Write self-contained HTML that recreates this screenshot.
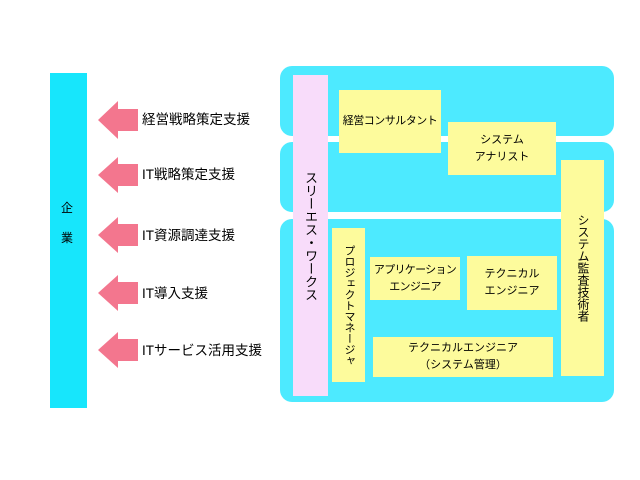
<!DOCTYPE html>
<html><head><meta charset="utf-8"><style>
body{margin:0;width:640px;height:480px;background:#fff;position:relative;overflow:hidden;font-family:"Liberation Sans","Noto Sans CJK JP",sans-serif;font-size:12px;color:#000}
div{position:absolute;box-sizing:border-box}
.p{background:#4deaff;border-radius:12px;left:280px;width:334px}
.y{background:#fdfb9c;display:flex;align-items:center;justify-content:center;text-align:center;line-height:17px;font-size:11px;white-space:nowrap}
.v{writing-mode:vertical-rl;}
.t{left:142px;font-size:13.5px;line-height:16px;white-space:nowrap}
</style></head><body>
<div style="left:50px;top:73px;width:37px;height:335px;background:#17e6fc"></div>
<div style="left:61px;top:200px;font-size:12px;line-height:16px">企</div>
<div style="left:61px;top:230px;font-size:12px;line-height:16px">業</div>
<svg style="position:absolute;left:0;top:0" width="640" height="480">
<g fill="#f3768e">
<polygon points="98,120 118,101 118,109 138,109 138,131 118,131 118,139"/>
<polygon points="98,175 118,157 118,164 138,164 138,186 118,186 118,193"/>
<polygon points="98,235 118,217 118,224 138,224 138,246 118,246 118,253"/>
<polygon points="98,293 118,275 118,282 138,282 138,304 118,304 118,311"/>
<polygon points="98,350 118,332 118,339 138,339 138,361 118,361 118,368"/>
</g></svg>
<div class="t" style="top:112px">経営戦略策定支援</div>
<div class="t" style="top:167px">IT戦略策定支援</div>
<div class="t" style="top:228px">IT資源調達支援</div>
<div class="t" style="top:286px">IT導入支援</div>
<div class="t" style="top:343px">ITサービス活用支援</div>

<div class="p" style="top:66px;height:70px"></div>
<div class="p" style="top:142px;height:70px"></div>
<div class="p" style="top:219px;height:183px"></div>
<div class="v" style="left:293px;top:75px;width:35px;height:321px;background:#f8dcfa;display:flex;align-items:center;justify-content:center;font-size:13px">スリーエス・ワークス</div>
<div class="y" style="left:339px;top:90px;width:102px;height:63px;letter-spacing:-0.5px">経営コンサルタント</div>
<div class="y" style="left:448px;top:122px;width:108px;height:53px">システム<br>アナリスト</div>
<div class="y v" style="left:561px;top:160px;width:43px;height:216px;font-size:12px">システム監査技術者</div>
<div class="y v" style="left:332px;top:228px;width:33px;height:154px">プロジェクトマネージャ</div>
<div class="y" style="left:370px;top:257px;width:90px;height:43px;letter-spacing:-0.7px">アプリケーション<br>エンジニア</div>
<div class="y" style="left:467px;top:256px;width:90px;height:54px">テクニカル<br>エンジニア</div>
<div class="y" style="left:373px;top:337px;width:180px;height:40px">テクニカルエンジニア<br>（システム管理）</div>
</body></html>
